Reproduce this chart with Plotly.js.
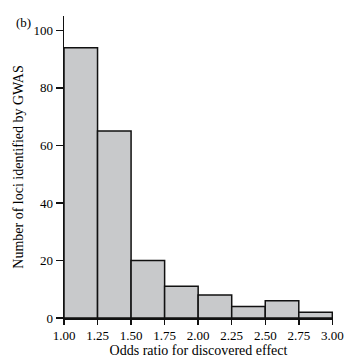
<!DOCTYPE html>
<html>
<head>
<meta charset="utf-8">
<script src="https://cdn.plot.ly/plotly-3.0.1.min.js"></script>
<style>html,body{margin:0;padding:0;background:#fff;}#chart{width:363px;height:361px;}</style>
</head>
<body>
<div id="chart"></div>
<script>
const binStarts = [1.00, 1.25, 1.50, 1.75, 2.00, 2.25, 2.50, 2.75];
const binWidth = 0.25;
const counts = [94, 65, 20, 11, 8, 4, 6, 2];
const xTickVals = [1.00, 1.25, 1.50, 1.75, 2.00, 2.25, 2.50, 2.75, 3.00];
const xTickText = ["1.00", "1.25", "1.50", "1.75", "2.00", "2.25", "2.50", "2.75", "3.00"];
const yTickVals = [0, 20, 40, 60, 80, 100];

const font = {family: "Liberation Serif, DejaVu Serif, serif", size: 13, color: "#000"};
const titleFont = {family: "Liberation Serif, DejaVu Serif, serif", size: 14, color: "#000"};

Plotly.newPlot("chart", [{
  type: "bar",
  x: binStarts,
  y: counts,
  width: binStarts.map(() => binWidth),
  offset: 0,
  marker: {color: "#c8c9cb", line: {color: "#111", width: 1.5}},
  hoverinfo: "skip"
}], {
  width: 363, height: 361,
  margin: {l: 64, r: 30, t: 16, b: 43},
  paper_bgcolor: "#fff", plot_bgcolor: "#fff",
  font: font,
  showlegend: false,
  bargap: 0,
  xaxis: {
    range: [1.0, 3.005],
    tickvals: xTickVals, ticktext: xTickText,
    ticks: "outside", ticklen: 5, tickwidth: 1.5, tickcolor: "#111",
    showline: true, linecolor: "#111", linewidth: 1.5,
    showgrid: false, zeroline: false,
    tickfont: font,
    title: {text: "Odds ratio for discovered effect", font: titleFont, standoff: 2}
  },
  yaxis: {
    range: [0, 105],
    tickvals: yTickVals,
    ticks: "outside", ticklen: 7, tickwidth: 1.5, tickcolor: "#111",
    showline: true, linecolor: "#111", linewidth: 1.5,
    showgrid: false, zeroline: false,
    tickfont: font,
    title: {text: "Number of loci identified by GWAS", font: titleFont, standoff: 6}
  },
  annotations: [{
    text: "(b)", xref: "paper", yref: "paper", x: -0.185, y: 0.98,
    xanchor: "left", yanchor: "middle", showarrow: false, font: font
  }]
}, {displayModeBar: false, staticPlot: true});
</script>
</body>
</html>
